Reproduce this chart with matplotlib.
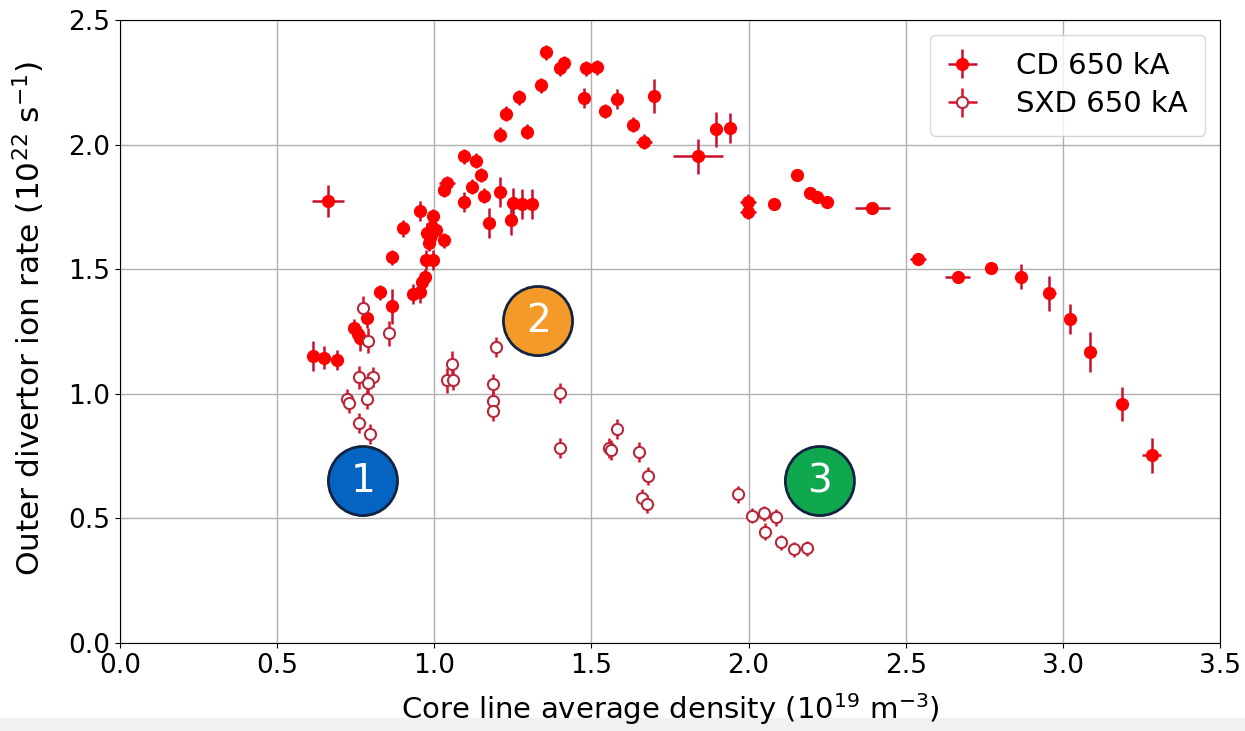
import matplotlib
matplotlib.use("Agg")
import matplotlib.pyplot as plt
from matplotlib.patches import Rectangle
import numpy as np

# CD 650 kA (filled)
cd_x = [0.615, 0.650, 0.690, 0.662, 0.745, 0.758, 0.765, 0.787, 0.827, 0.864,
        0.864, 0.901, 0.933, 0.955, 0.955, 0.960, 0.970, 0.974, 0.997, 0.976,
        0.986, 0.984, 0.995, 0.992, 1.005, 1.031, 1.031, 1.041, 1.096, 1.133,
        1.148, 1.121, 1.096, 1.159, 1.209, 1.251, 1.278, 1.310, 1.175, 1.243,
        1.209, 1.294, 1.227, 1.270, 1.338, 1.357, 1.400, 1.413, 1.483, 1.517,
        1.476, 1.582, 1.544, 1.699, 1.633, 1.667, 1.840, 1.896, 1.941, 1.999,
        1.999, 2.081, 2.153, 2.195, 2.217, 2.248, 2.394, 2.538, 2.665, 2.771,
        2.867, 2.957, 3.024, 3.086, 3.189, 3.283]
cd_y = [1.152, 1.145, 1.136, 1.774, 1.265, 1.240, 1.222, 1.303, 1.407, 1.548,
        1.352, 1.664, 1.399, 1.410, 1.735, 1.450, 1.470, 1.537, 1.537, 1.644,
        1.625, 1.604, 1.713, 1.671, 1.657, 1.617, 1.818, 1.845, 1.954, 1.936,
        1.878, 1.831, 1.771, 1.795, 1.809, 1.767, 1.762, 1.762, 1.687, 1.697,
        2.039, 2.052, 2.123, 2.190, 2.239, 2.371, 2.306, 2.326, 2.306, 2.310,
        2.186, 2.182, 2.135, 2.195, 2.079, 2.012, 1.954, 2.061, 2.065, 1.771,
        1.731, 1.762, 1.878, 1.805, 1.791, 1.771, 1.744, 1.541, 1.467, 1.503,
        1.470, 1.403, 1.300, 1.169, 0.959, 0.753]
cd_xerr = [0.008, 0.008, 0.008, 0.05, 0.01, 0.015, 0.01, 0.008, 0.008, 0.008,
           0.008, 0.008, 0.008, 0.008, 0.008, 0.008, 0.008, 0.008, 0.008, 0.008,
           0.008, 0.008, 0.008, 0.008, 0.008, 0.008, 0.02, 0.025, 0.008, 0.008,
           0.02, 0.008, 0.008, 0.008, 0.008, 0.008, 0.008, 0.008, 0.008, 0.008,
           0.008, 0.008, 0.008, 0.008, 0.008, 0.008, 0.008, 0.008, 0.008, 0.008,
           0.008, 0.008, 0.008, 0.02, 0.008, 0.025, 0.08, 0.008, 0.008, 0.025,
           0.025, 0.02, 0.008, 0.02, 0.008, 0.008, 0.055, 0.025, 0.04, 0.02,
           0.02, 0.02, 0.008, 0.02, 0.008, 0.03]
cd_yerr = [0.06, 0.045, 0.04, 0.065, 0.035, 0.04, 0.05, 0.04, 0.03, 0.03,
           0.07, 0.035, 0.04, 0.045, 0.04, 0.03, 0.03, 0.04, 0.04, 0.04,
           0.03, 0.03, 0.03, 0.03, 0.03, 0.03, 0.03, 0.03, 0.03, 0.03,
           0.03, 0.03, 0.04, 0.03, 0.06, 0.06, 0.06, 0.06, 0.06, 0.06,
           0.03, 0.03, 0.03, 0.03, 0.03, 0.03, 0.03, 0.03, 0.03, 0.03,
           0.04, 0.04, 0.03, 0.07, 0.03, 0.03, 0.07, 0.07, 0.06, 0.03,
           0.03, 0.02, 0.02, 0.02, 0.02, 0.02, 0.02, 0.02, 0.02, 0.02,
           0.05, 0.07, 0.06, 0.08, 0.07, 0.07]

# SXD 650 kA (open)
sxd_x = [0.774, 0.790, 0.857, 0.761, 0.804, 0.790, 0.721, 0.729, 0.785, 0.761,
         0.795, 1.196, 1.057, 1.041, 1.060, 1.188, 1.186, 1.188, 1.400, 1.400,
         1.582, 1.557, 1.561, 1.652, 1.679, 1.662, 1.676, 1.966, 2.010, 2.049,
         2.086, 2.052, 2.102, 2.145, 2.186]
sxd_y = [1.343, 1.213, 1.243, 1.066, 1.066, 1.045, 0.978, 0.962, 0.978, 0.882,
         0.838, 1.189, 1.120, 1.055, 1.055, 1.039, 0.971, 0.932, 1.002, 0.784,
         0.857, 0.781, 0.774, 0.768, 0.671, 0.583, 0.558, 0.597, 0.511, 0.520,
         0.504, 0.447, 0.405, 0.376, 0.381]
sxd_yerr = [0.05, 0.05, 0.05, 0.045, 0.04, 0.04, 0.04, 0.04, 0.04, 0.04,
            0.04, 0.04, 0.05, 0.05, 0.04, 0.04, 0.04, 0.04, 0.04, 0.04,
            0.04, 0.04, 0.04, 0.04, 0.035, 0.035, 0.035, 0.035, 0.03, 0.03,
            0.035, 0.035, 0.03, 0.03, 0.03]
sxd_xerr = [0.005] * len(sxd_x)

# numbered circles added on top of the figure
tags = ['1', '2', '3']
tag_x = [0.773, 1.330, 2.227]
tag_y = [0.650, 1.292, 0.650]
tag_colors = ['#0563c1', '#f39a28', '#0fa84f']

fig = plt.figure(figsize=(12.45, 7.31), dpi=100)
# faint grey strip at the very bottom of the screenshot (behind everything)
fig.patches.append(Rectangle((0, 0), 1, 0.018, transform=fig.transFigure,
                             color='#f1f1f1', zorder=-10))
ax = fig.add_axes([0.0964, 0.1204, 0.8835, 0.8522])
ax.patch.set_alpha(0)
ax.set_zorder(1)

ax.errorbar(cd_x, cd_y, xerr=cd_xerr, yerr=cd_yerr, fmt='o', color='#ff0000',
            ecolor='#c8102e', elinewidth=1.8, markersize=8.5, capsize=0,
            label='CD 650 kA', zorder=3)
ax.errorbar(sxd_x, sxd_y, xerr=sxd_xerr, yerr=sxd_yerr, fmt='o', color='#ff0000',
            ecolor='#e0102a', elinewidth=1.8, markersize=8, markerfacecolor='white',
            markeredgecolor='#b8283c', markeredgewidth=1.5, capsize=0,
            label='SXD 650 kA', zorder=3)

ax.set_xlim(0, 3.5)
ax.set_ylim(0, 2.5)
ax.set_xticks(np.arange(0, 3.51, 0.5))
ax.set_yticks(np.arange(0, 2.51, 0.5))
ax.tick_params(labelsize=19)
ax.grid(True, color='#b0b0b0', linewidth=1)
ax.set_axisbelow(True)
ax.set_xlabel(r'Core line average density ($10^{19}$ m$^{-3}$)', fontsize=21, labelpad=9)
ax.set_ylabel(r'Outer divertor ion rate ($10^{22}$ s$^{-1}$)', fontsize=22.5)
ax.yaxis.set_label_coords(-0.066, 0.521)

ax.legend(loc='upper right', fontsize=21, handlelength=1.0, handletextpad=1.35,
          borderpad=0.6, labelspacing=0.35)

for t, x, y, c in zip(tags, tag_x, tag_y, tag_colors):
    ax.text(x, y, t, ha='center', va='center', color='white', fontsize=28,
            bbox=dict(boxstyle='circle,pad=0.4', fc=c, ec='#142440', lw=2),
            zorder=5)

fig.savefig('out.png', dpi=100)
